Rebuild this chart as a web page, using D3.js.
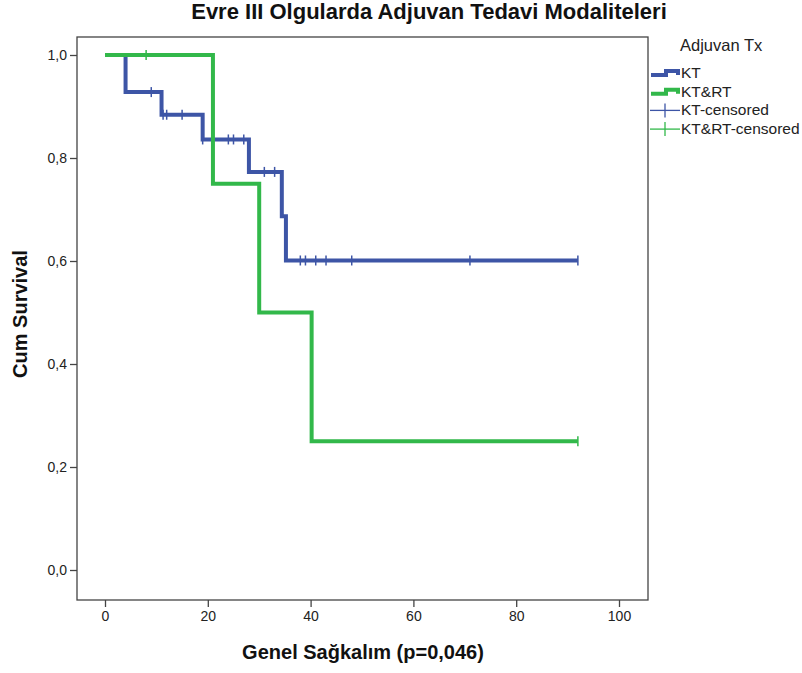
<!DOCTYPE html>
<html>
<head>
<meta charset="utf-8">
<script src="https://cdn.jsdelivr.net/npm/d3@7"></script>
<style>
  body { margin: 0; background: #fff; }
  text { font-family: "Liberation Sans", Arial, sans-serif; }
</style>
</head>
<body>
<svg id="chart"></svg>
<script>
const WIDTH = 802;
const HEIGHT = 673;

// step curves: [time, survival] at each step
const ktSteps = [[0, 1], [4, 0.928], [11, 0.884], [19, 0.836], [28, 0.773], [34.4, 0.687], [35.2, 0.601], [92, 0.601]];
const ktrtSteps = [[0, 1], [21, 0.75], [30, 0.5], [40.2, 0.25], [92, 0.25]];
// censored cases
const ktCensored = [[9, 0.928], [11.3, 0.884], [12, 0.884], [15, 0.884], [19, 0.836], [24, 0.836], [25, 0.836], [27, 0.836],
  [31, 0.773], [33, 0.773], [38, 0.601], [39, 0.601], [41, 0.601], [43, 0.601], [48, 0.601], [71, 0.601], [92, 0.601]];
const ktrtCensored = [[8, 1], [92, 0.25]];

const xTicks = [0, 20, 40, 60, 80, 100];
const yTicks = [0, 0.2, 0.4, 0.6, 0.8, 1.0];
const legendLabels = ['KT', 'KT&RT', 'KT-censored', 'KT&RT-censored'];

const blue = '#3d55a6';
const green = '#32b84a';

const frame = {left: 77, right: 648, top: 37, bottom: 600};

const svg = d3.select('#chart').attr('width', WIDTH).attr('height', HEIGHT);

const x = d3.scaleLinear().domain([0, 100]).range([105, 619]);
const y = d3.scaleLinear().domain([0, 1]).range([570, 55]);

svg.append('text')
    .attr('x', 429).attr('y', 19)
    .attr('text-anchor', 'middle')
    .style('font-size', '22px').style('font-weight', 'bold')
    .attr('fill', '#111')
    .text('Evre III Olgularda Adjuvan Tedavi Modaliteleri');

// plot frame
svg.append('rect')
    .attr('x', frame.left).attr('y', frame.top)
    .attr('width', frame.right - frame.left).attr('height', frame.bottom - frame.top)
    .attr('fill', 'none').attr('stroke', '#444').attr('stroke-width', 1.3);

const xAxis = svg.append('g')
    .attr('transform', `translate(0,${frame.bottom})`)
    .call(d3.axisBottom(x).tickValues(xTicks).tickSize(7).tickSizeOuter(0).tickPadding(4));
const yAxis = svg.append('g')
    .attr('transform', `translate(${frame.left},0)`)
    .call(d3.axisLeft(y).tickValues(yTicks).tickSize(7).tickSizeOuter(0).tickPadding(3)
        .tickFormat(d => d3.format('.1f')(d).replace('.', ',')));

[xAxis, yAxis].forEach(a => {
    a.select('.domain').remove();
    a.selectAll('line').attr('stroke', '#444').attr('stroke-width', 1.3);
    a.selectAll('text').attr('fill', '#222').style('font-size', '14px');
});

svg.append('text')
    .attr('x', 363).attr('y', 659)
    .attr('text-anchor', 'middle')
    .style('font-size', '20px').style('font-weight', 'bold').attr('fill', '#111')
    .text('Genel Sağkalım (p=0,046)');

svg.append('text')
    .attr('transform', 'translate(27,314) rotate(-90)')
    .attr('text-anchor', 'middle')
    .style('font-size', '20px').style('font-weight', 'bold').attr('fill', '#111')
    .text('Cum Survival');

const step = d3.line()
    .x(d => x(d[0]))
    .y(d => y(d[1]))
    .curve(d3.curveStepAfter);

function drawCurve(steps, censored, color) {
    svg.append('path')
        .datum(steps)
        .attr('d', step)
        .attr('fill', 'none')
        .attr('stroke', color)
        .attr('stroke-width', 4)
        .attr('stroke-linejoin', 'miter');
    svg.selectAll(null)
        .data(censored)
        .enter()
        .append('line')
        .attr('x1', d => x(d[0])).attr('x2', d => x(d[0]))
        .attr('y1', d => y(d[1]) - 5).attr('y2', d => y(d[1]) + 5)
        .attr('stroke', color)
        .attr('stroke-width', 1.5);
}

drawCurve(ktSteps, ktCensored, blue);
drawCurve(ktrtSteps, ktrtCensored, green);

// legend
const legend = svg.append('g');
legend.append('text')
    .attr('x', 680).attr('y', 51)
    .style('font-size', '16.5px').attr('fill', '#222')
    .text('Adjuvan Tx');

const legendColors = [blue, green, blue, green];
legendLabels.forEach((label, i) => {
    const ly = 73 + i * 18.7;
    if (i < 2) {
        legend.append('path')
            .attr('d', `M651,${ly + 2}H666V${ly - 2}H678V${ly + 2}`)
            .attr('fill', 'none')
            .attr('stroke', legendColors[i])
            .attr('stroke-width', 4);
    } else {
        legend.append('line')
            .attr('x1', 650).attr('x2', 680).attr('y1', ly).attr('y2', ly)
            .attr('stroke', legendColors[i]).attr('stroke-width', 1.3);
        legend.append('line')
            .attr('x1', 665).attr('x2', 665).attr('y1', ly - 7).attr('y2', ly + 7)
            .attr('stroke', legendColors[i]).attr('stroke-width', 1.3);
    }
    legend.append('text')
        .attr('x', 681).attr('y', ly + 5)
        .style('font-size', '15.5px').attr('fill', '#222')
        .text(label);
});
</script>
</body>
</html>
